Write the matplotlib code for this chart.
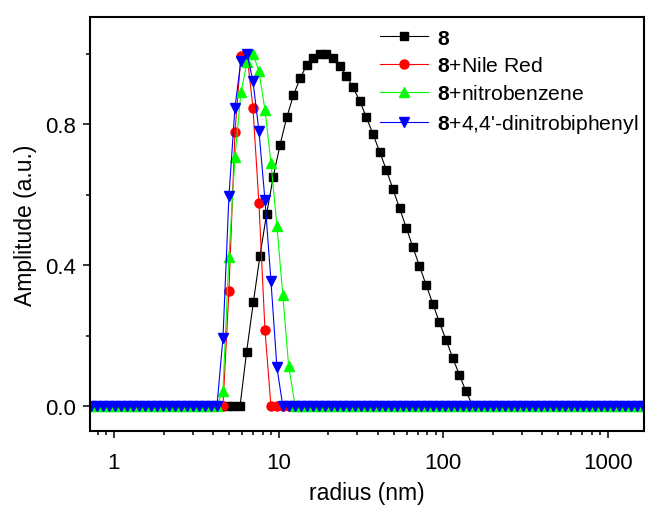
import matplotlib
matplotlib.use("Agg")
import matplotlib.pyplot as plt
from matplotlib.ticker import FixedLocator, FuncFormatter, MultipleLocator, LogLocator, NullFormatter

plt.rcParams['font.family'] = ['Liberation Sans', 'DejaVu Sans']
plt.rcParams['mathtext.fontset'] = 'custom'
plt.rcParams['mathtext.rm'] = 'Liberation Sans'
plt.rcParams['mathtext.bf'] = 'Liberation Sans:bold'

# radius bins (nm) of the pure sample 8
radius_8 = [0.753, 0.827, 0.907, 0.996, 1.09, 1.20, 1.32, 1.44, 1.58, 1.74,
            1.91, 2.10, 2.30, 2.52, 2.77, 3.04, 3.34, 3.66, 4.02, 4.41,
            4.84, 5.31, 5.83, 6.39, 7.02, 7.70, 8.45, 9.27, 10.2, 11.2,
            12.3, 13.5, 14.8, 16.2, 17.8, 19.5, 21.4, 23.5, 25.8, 28.3,
            31.1, 34.1, 37.4, 41.1, 45.1, 49.4, 54.3, 59.6, 65.3, 71.7,
            78.7, 86.4, 94.8, 104, 114, 125, 137, 151, 166, 182,
            199, 219, 240, 264, 289, 318, 348, 382, 420, 461,
            505, 555, 609, 668, 733, 804, 883, 969, 1060, 1170,
            1280, 1410, 1540]
amp_8 = ([0.0] * 23 +
         [0.154, 0.294, 0.426, 0.545, 0.650, 0.741, 0.819, 0.882, 0.930, 0.967,
          0.989, 1.000, 0.999, 0.987, 0.965, 0.937, 0.904, 0.866, 0.819, 0.772,
          0.721, 0.670, 0.616, 0.561, 0.506, 0.451, 0.397, 0.343, 0.290, 0.237,
          0.187, 0.137, 0.089, 0.043] +
         [0.0] * 26)

# radius bins (nm) of the mixtures
radius_mix = [0.725, 0.788, 0.857, 0.932, 1.01, 1.10, 1.20, 1.30, 1.42, 1.54,
              1.68, 1.82, 1.98, 2.16, 2.35, 2.55, 2.77, 3.02, 3.28, 3.57,
              3.88, 4.22, 4.59, 4.99, 5.43, 5.90, 6.42, 6.98, 7.59, 8.26,
              8.98, 9.76, 10.6, 11.5, 12.6, 13.7, 14.9, 16.2, 17.6, 19.1,
              20.8, 22.6, 24.6, 26.7, 29.1, 31.6, 34.4, 37.4, 40.6, 44.2,
              48.1, 52.3, 56.8, 61.8, 67.2, 73.1, 79.5, 86.5, 94.0, 102,
              111, 121, 132, 143, 156, 169, 184, 200, 218, 237,
              257, 280, 304, 331, 360, 391, 426, 463, 503, 547,
              595, 647, 704, 766, 832, 905, 985, 1071, 1164, 1266,
              1377, 1498, 1629]
amp_nile = ([0.0] * 23 +
            [0.327, 0.778, 0.994, 1.000, 0.847, 0.576, 0.216] +
            [0.0] * 63)
amp_nitro = ([0.0] * 22 +
             [0.043, 0.424, 0.706, 0.890, 0.975, 1.000, 0.950, 0.841, 0.691, 0.511,
              0.315, 0.114] +
             [0.0] * 59)
amp_dinitro = ([0.0] * 22 +
               [0.193, 0.595, 0.847, 0.980, 1.000, 0.923, 0.781, 0.585, 0.355, 0.110] +
               [0.0] * 61)

labels = [r'$\mathbf{8}$', r'$\mathbf{8}$+Nile Red', r'$\mathbf{8}$+nitrobenzene',
          r"$\mathbf{8}$+4,4'-dinitrobiphenyl"]
x_ticks = [1, 10, 100, 1000]
y_ticks = [0.0, 0.4, 0.8]

fig = plt.figure(figsize=(6.48, 5.06), dpi=100)
ax = fig.add_axes([90 / 648, 74 / 506, 554 / 648, 414 / 506])

ax.plot(radius_8, amp_8, color='black', marker='s', ms=5.8, lw=0.8, mec='black', label=labels[0])
ax.plot(radius_mix, amp_nile, color='red', marker='o', ms=6.5, lw=0.8, mec='red', label=labels[1])
ax.plot(radius_mix, amp_nitro, color='#00ff00', marker='^', ms=7.5, lw=0.8, mec='#00ff00', label=labels[2])
ax.plot(radius_mix, amp_dinitro, color='blue', marker='v', ms=7.5, lw=0.8, mec='blue', label=labels[3])

ax.set_xscale('log')
ax.set_xlim(0.715, 1656)
ax.set_ylim(-0.071, 1.104)
ax.xaxis.set_major_locator(FixedLocator(x_ticks))
ax.xaxis.set_major_formatter(FuncFormatter(lambda v, p: f'{v:g}'))
ax.xaxis.set_minor_locator(LogLocator(base=10, subs=range(2, 10), numticks=20))
ax.xaxis.set_minor_formatter(NullFormatter())
ax.yaxis.set_major_locator(FixedLocator(y_ticks))
ax.yaxis.set_major_formatter(FuncFormatter(lambda v, p: f'{v:.1f}'))
ax.yaxis.set_minor_locator(MultipleLocator(0.2))

ax.tick_params(which='major', direction='out', length=5, width=1.1, labelsize=16, pad=5)
ax.tick_params(which='minor', direction='out', length=3, width=1.1)
ax.tick_params(axis='x', which='major', pad=10)
for s in ax.spines.values():
    s.set_linewidth(1.5)

ax.set_xlabel('radius (nm)', fontsize=16.5, labelpad=6)
ax.set_ylabel('Amplitude (a.u.)', fontsize=16.5, labelpad=6)

ax.legend(loc='upper left', bbox_to_anchor=(0.523, 0.972), frameon=False, fontsize=15.2,
          numpoints=1, handlelength=2.3, handletextpad=0.4, labelspacing=0.42,
          borderpad=0, borderaxespad=0)

fig.savefig('out.png', dpi=100)
